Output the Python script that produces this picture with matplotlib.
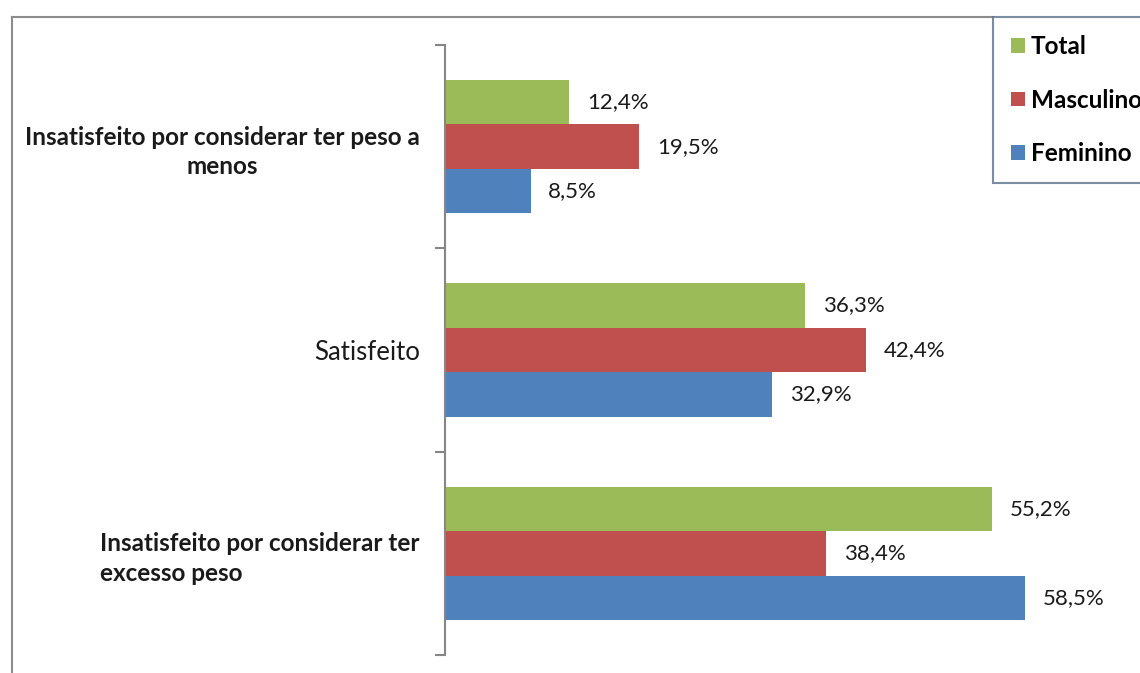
import matplotlib
matplotlib.use('Agg')
import matplotlib.pyplot as plt
import numpy as np
from matplotlib.lines import Line2D

plt.rcParams['font.family'] = ['Lato', 'DejaVu Sans']

categorias = ['Insatisfeito por considerar ter peso a\nmenos',
              'Satisfeito',
              'Insatisfeito por considerar ter\nexcesso peso']
series = ['Total', 'Masculino', 'Feminino']
total = [12.4, 36.3, 55.2]
masculino = [19.5, 42.4, 38.4]
feminino = [8.5, 32.9, 58.5]
rotulos_total = ['12,4%', '36,3%', '55,2%']
rotulos_masc = ['19,5%', '42,4%', '38,4%']
rotulos_fem = ['8,5%', '32,9%', '58,5%']

cores = ['#9BBB59', '#C0504D', '#4F81BD']

W, H = 1140, 673
fig = plt.figure(figsize=(W / 100, H / 100), dpi=100)
ax = fig.add_axes([445 / W, 1 - 655 / H, (1137 - 445) / W, (655 - 45) / H])

y = np.arange(len(categorias))
h = 0.219
valores = [total, masculino, feminino]
rotulos = [rotulos_total, rotulos_masc, rotulos_fem]
for k, (vals, labs, cor) in enumerate(zip(valores, rotulos, cores)):
    pos = y + (k - 1) * h
    ax.barh(pos, vals, height=h, color=cor, label=series[k], left=0.15)
    for p, v, t in zip(pos, vals, labs):
        ax.text(v + 1.95, p, t, va='center', ha='left', fontsize=16, color='#1a1a1a')

ax.set_xlim(0, 70)
ax.set_ylim(2.5, -0.5)
ax.set_xticks([])
for s in ['top', 'right', 'bottom']:
    ax.spines[s].set_visible(False)
ax.spines['left'].set_color('#868686')
ax.spines['left'].set_linewidth(1.5)

ax.set_yticks(y)
ax.set_yticklabels(categorias, fontsize=17.5, linespacing=1.35)
ax.tick_params(axis='y', which='major', length=0, pad=18, labelcolor='#1a1a1a')
ax.set_yticks([-0.5, 0.5, 1.5, 2.5], minor=True)
ax.tick_params(axis='y', which='minor', length=7, width=1.5, color='#868686')
tl = ax.get_yticklabels()
tl[0].set_fontweight('bold')
tl[0].set_multialignment('center')
tl[1].set_fontsize(18.5)
tl[2].set_fontweight('bold')
tl[2].set_multialignment('left')

# moldura externa do gráfico
fig.add_artist(Line2D([12 / W, 12 / W], [0, 1 - 17 / H], color='#8c8c8c', lw=1.5))
fig.add_artist(Line2D([12 / W, 993 / W], [1 - 17 / H, 1 - 17 / H], color='#8c8c8c', lw=1.5))

leg = fig.legend(loc='upper left', bbox_to_anchor=(993 / W, 1 - 17 / H),
                 frameon=True, fancybox=False, edgecolor='#5b6f8a',
                 prop={'weight': 'bold', 'size': 17.5}, handlelength=0.55,
                 handleheight=0.55, handletextpad=0.25, labelspacing=1.25,
                 borderpad=0.75, borderaxespad=0)
leg.get_frame().set_linewidth(1.5)

fig.savefig('out.png', dpi=100)
